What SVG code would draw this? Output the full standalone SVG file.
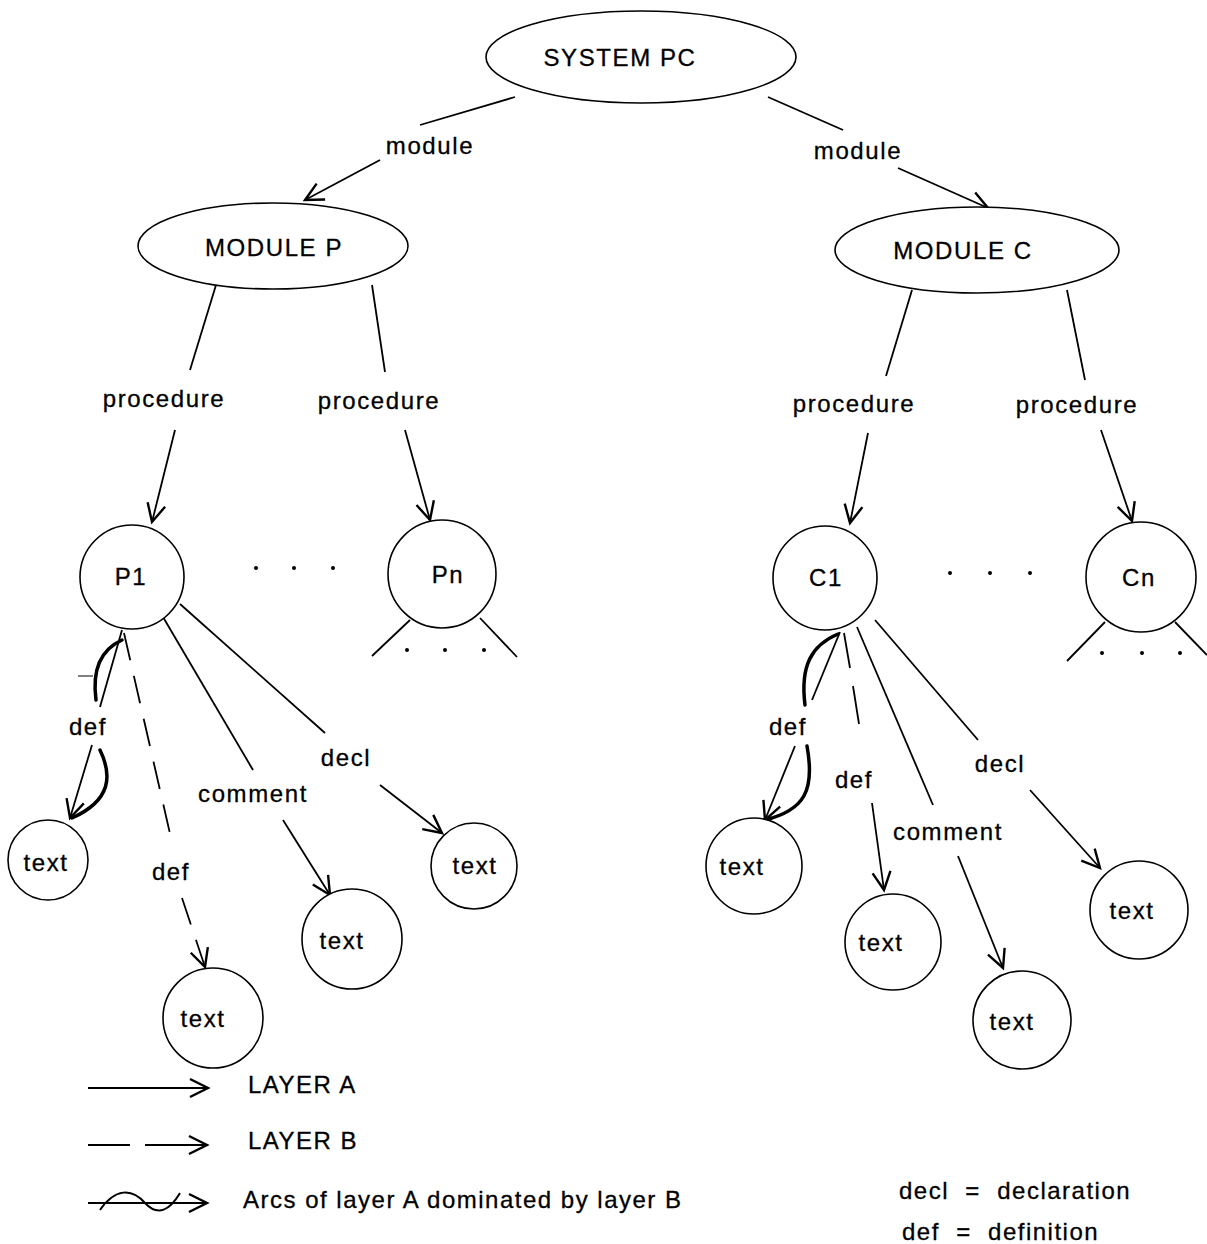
<svg xmlns="http://www.w3.org/2000/svg" width="1207" height="1244" viewBox="0 0 1207 1244">
<style>
.n{fill:#fff;stroke:#000;stroke-width:1.6}
.t{font-family:"Liberation Sans",Arial,sans-serif;font-size:24px;letter-spacing:1.6px;fill:#000;stroke:#000;stroke-width:0.3;text-anchor:middle;dominant-baseline:central}
.tl{font-family:"Liberation Sans",Arial,sans-serif;font-size:24px;letter-spacing:1.5px;fill:#000;stroke:#000;stroke-width:0.3}
.e{fill:none;stroke:#000;stroke-width:1.8}
.d{fill:none;stroke:#000;stroke-width:1.8;stroke-dasharray:28 16}
.w{fill:none;stroke:#000;stroke-width:3.5;stroke-linecap:round}
</style>
<defs>
<marker id="a" markerUnits="userSpaceOnUse" markerWidth="24" markerHeight="24" viewBox="-20 -10 24 20" refX="0" refY="0" orient="auto">
<path d="M-18,-9 L0,0 L-18,9" fill="none" stroke="#000" stroke-width="2.4"/>
</marker>
</defs>
<g id="connectors">
<line class="e" x1="515" y1="97" x2="420" y2="125"/>
<line class="e" x1="380" y1="160" x2="305" y2="200" marker-end="url(#a)"/>
<line class="e" x1="768" y1="97" x2="843" y2="130"/>
<line class="e" x1="898" y1="168" x2="988" y2="208" marker-end="url(#a)"/>
<line class="e" x1="216" y1="285" x2="190" y2="370"/>
<line class="e" x1="175" y1="430" x2="152" y2="522" marker-end="url(#a)"/>
<line class="e" x1="372" y1="285" x2="385" y2="372"/>
<line class="e" x1="405" y1="430" x2="430" y2="520" marker-end="url(#a)"/>
<line class="e" x1="912" y1="290" x2="886" y2="376"/>
<line class="e" x1="868" y1="433" x2="850" y2="523" marker-end="url(#a)"/>
<line class="e" x1="1067" y1="290" x2="1085" y2="380"/>
<line class="e" x1="1101" y1="430" x2="1132" y2="521" marker-end="url(#a)"/>
<line class="e" x1="410" y1="620" x2="372" y2="656"/>
<line class="e" x1="480" y1="618" x2="517" y2="657"/>
<line class="e" x1="1105" y1="622" x2="1067" y2="661"/>
<line class="e" x1="1175" y1="622" x2="1207" y2="655"/>
<!-- P1 children -->
<line class="e" x1="122" y1="630" x2="100" y2="707"/>
<line class="e" x1="92" y1="745" x2="70" y2="818" marker-end="url(#a)"/>
<path class="w" d="M122,640 C100,650 92,670 96,700"/>
<line x1="78" y1="676" x2="93" y2="676" stroke="#000" stroke-width="1"/>
<path class="w" d="M100,750 C112,775 112,800 72,818"/>
<line class="d" x1="124" y1="633" x2="171" y2="838"/>
<line class="d" x1="182" y1="898" x2="205" y2="967" marker-end="url(#a)"/>
<line class="e" x1="163" y1="617" x2="253" y2="770"/>
<line class="e" x1="283" y1="820" x2="330" y2="895" marker-end="url(#a)"/>
<line class="e" x1="180" y1="604" x2="325" y2="733"/>
<line class="e" x1="380" y1="785" x2="442" y2="833" marker-end="url(#a)"/>
<!-- C1 children -->
<line class="e" x1="840" y1="632" x2="812" y2="700"/>
<line class="e" x1="795" y1="746" x2="765" y2="820" marker-end="url(#a)"/>
<path class="w" d="M838,634 C812,645 800,665 805,705"/>
<path class="w" d="M807,746 C815,790 805,810 765,820"/>
<line class="e" x1="844" y1="633" x2="850" y2="668"/>
<line class="e" x1="853" y1="686" x2="859" y2="724"/>
<line class="e" x1="872" y1="803" x2="884" y2="890" marker-end="url(#a)"/>
<line class="e" x1="857" y1="627" x2="933" y2="805"/>
<line class="e" x1="958" y1="856" x2="1003" y2="968" marker-end="url(#a)"/>
<line class="e" x1="875" y1="620" x2="978" y2="740"/>
<line class="e" x1="1030" y1="790" x2="1100" y2="868" marker-end="url(#a)"/>
</g>
<g id="labels">
<text class="t" x="430" y="145">module</text>
<text class="t" x="858" y="150">module</text>
<text class="t" x="164" y="398">procedure</text>
<text class="t" x="379" y="400">procedure</text>
<text class="t" x="854" y="403">procedure</text>
<text class="t" x="1077" y="404">procedure</text>
<text class="t" x="88" y="726">def</text>
<text class="t" x="171" y="871">def</text>
<text class="t" x="253" y="793">comment</text>
<text class="t" x="346" y="757">decl</text>
<text class="t" x="788" y="726">def</text>
<text class="t" x="854" y="779">def</text>
<text class="t" x="948" y="831">comment</text>
<text class="t" x="1000" y="763">decl</text>
</g>
<g id="system-pc"><ellipse class="n" cx="641" cy="57" rx="155" ry="46"/><text class="t" x="620" y="57">SYSTEM PC</text></g>
<g id="module-p"><ellipse class="n" cx="273" cy="246" rx="135" ry="43"/><text class="t" x="274" y="247">MODULE P</text></g>
<g id="module-c"><ellipse class="n" cx="977" cy="250" rx="142" ry="43"/><text class="t" x="963" y="250">MODULE C</text></g>
<g id="p1"><circle class="n" cx="132" cy="577" r="52"/><text class="t" x="131" y="576">P1</text></g>
<g id="pn"><circle class="n" cx="442" cy="574" r="54"/><text class="t" x="448" y="574">Pn</text></g>
<g id="c1"><circle class="n" cx="825" cy="578" r="52"/><text class="t" x="826" y="577">C1</text></g>
<g id="cn"><circle class="n" cx="1141" cy="577" r="55"/><text class="t" x="1139" y="577">Cn</text></g>
<g id="dots" fill="#000">
<circle cx="256" cy="568" r="2"/><circle cx="294" cy="568" r="2"/><circle cx="333" cy="568" r="2"/>
<circle cx="950" cy="573" r="2"/><circle cx="990" cy="573" r="2"/><circle cx="1030" cy="573" r="2"/>
<circle cx="407" cy="650" r="2"/><circle cx="445" cy="650" r="2"/><circle cx="484" cy="650" r="2"/>
<circle cx="1102" cy="653" r="2"/><circle cx="1142" cy="653" r="2"/><circle cx="1180" cy="653" r="2"/>
</g>
<g id="p1-def-text"><circle class="n" cx="48" cy="860" r="40"/><text class="t" x="46" y="862">text</text></g>
<g id="p1-def2-text"><circle class="n" cx="213" cy="1018" r="50"/><text class="t" x="203" y="1018">text</text></g>
<g id="p1-comment-text"><circle class="n" cx="352" cy="939" r="50"/><text class="t" x="342" y="940">text</text></g>
<g id="p1-decl-text"><circle class="n" cx="474" cy="866" r="43"/><text class="t" x="475" y="865">text</text></g>
<g id="c1-def-text"><circle class="n" cx="754" cy="866" r="48"/><text class="t" x="742" y="866">text</text></g>
<g id="c1-def2-text"><circle class="n" cx="893" cy="942" r="48"/><text class="t" x="881" y="942">text</text></g>
<g id="c1-comment-text"><circle class="n" cx="1022" cy="1020" r="49"/><text class="t" x="1012" y="1021">text</text></g>
<g id="c1-decl-text"><circle class="n" cx="1139" cy="910" r="49"/><text class="t" x="1132" y="910">text</text></g>
<g id="legend">
<line class="e" x1="88" y1="1088" x2="208" y2="1088" marker-end="url(#a)"/>
<text class="tl" x="248" y="1093">LAYER A</text>
<line class="e" x1="88" y1="1145" x2="130" y2="1145"/>
<line class="e" x1="145" y1="1145" x2="207" y2="1145" marker-end="url(#a)"/>
<text class="tl" x="248" y="1149">LAYER B</text>
<line class="e" x1="88" y1="1203" x2="207" y2="1203" marker-end="url(#a)"/>
<path d="M100,1210 C115,1188 132,1188 145,1203 C158,1217 170,1210 180,1193" fill="none" stroke="#000" stroke-width="2"/>
<text class="tl" x="243" y="1208">Arcs of layer A dominated by layer B</text>
<text class="tl" x="899" y="1199" xml:space="preserve">decl  =  declaration</text>
<text class="tl" x="902" y="1240" xml:space="preserve">def  =  definition</text>
</g>
</svg>
